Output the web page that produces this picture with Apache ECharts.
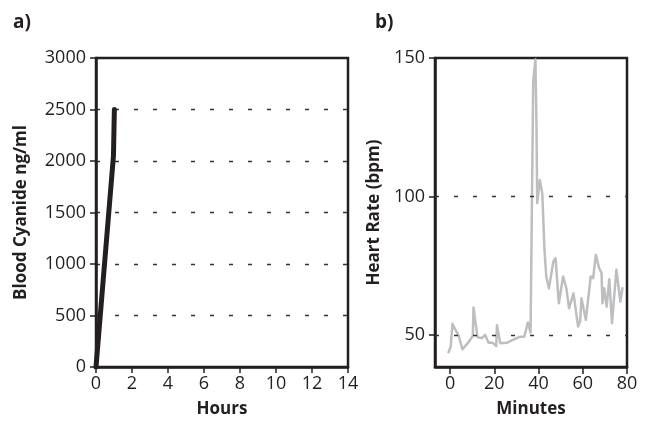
<!DOCTYPE html>
<html><head><meta charset="utf-8">
<script src="https://cdn.jsdelivr.net/npm/echarts@6/dist/echarts.min.js"></script>
<style>html,body{margin:0;padding:0;background:#fff}#c{width:649px;height:429px}</style>
</head><body><div id="c"></div>
<script>
// Panel a: blood cyanide vs hours
const cyanideHours = [0, 0.97, 1.02];
const cyanideValues = [0, 2050, 2500];
// Panel b: heart rate vs minutes
const hrMinutes = [-0.8,0.3,1.1,2.3,3.8,5.6,8.0,10.3,10.6,12.4,14.4,15.9,17.4,19.2,20.9,21.2,22.7,25.8,31.1,33.6,35.2,36.4,37.6,38.6,39.1,39.4,40.6,41.7,42.7,43.5,44.7,46.7,47.7,48.9,49.2,51.1,52.6,53.8,55.8,57.9,58.8,59.4,61.4,63.6,64.7,65.9,67.4,68.5,68.9,69.7,70.8,72.0,73.2,75.2,77.0,78.0];
const hrValues = [43.4,45.8,54.0,52.0,50.0,44.8,47.0,49.6,59.9,49.2,48.8,50.0,47.2,47.2,46.0,53.5,47.0,47.2,49.2,49.4,54.5,50.8,141.5,149.5,124.6,97.5,105.9,101.1,80.7,71.1,66.8,76.5,77.7,64.4,61.4,71.1,66.8,59.6,65.0,53.0,54.8,63.2,55.4,71.1,70.5,78.9,74.1,72.3,61.4,66.8,60.2,70.1,54.2,73.5,62.0,67.2];
const hoursTicks = [0,2,4,6,8,10,12,14];
const cyanideTicks = [0,500,1000,1500,2000,2500,3000];
const minuteTicks = [0,20,40,60,80];
const hrTicks = [50,100,150];
const hrGridLines = [50,100];

const ink = '#231f20';
const font = '"Open Sans", "Liberation Sans", sans-serif';
const chart = echarts.init(document.getElementById('c'), null, {renderer:'canvas'});
const plain = v => String(v);
const lbl = {color: ink, fontSize: 18, fontFamily: font, formatter: plain};
const nm = {color: ink, fontSize: 17, fontWeight: 'bold', fontFamily: font};
chart.setOption({
  animation: false,
  title: [
    {text: 'a)', left: 8, top: 8, textStyle: {color: ink, fontSize: 19, fontWeight: 'bold', fontFamily: font}},
    {text: 'b)', left: 370, top: 8, textStyle: {color: ink, fontSize: 19, fontWeight: 'bold', fontFamily: font}}
  ],
  grid: [
    {left: 96, right: 301, top: 58, bottom: 62, show: true, borderColor: ink, borderWidth: 2.5, backgroundColor: 'transparent'},
    {left: 435, right: 22, top: 58, bottom: 62, show: true, borderColor: ink, borderWidth: 2.5, backgroundColor: 'transparent'}
  ],
  xAxis: [
    {type: 'value', gridIndex: 0, min: 0, max: 14, interval: 2,
     name: 'Hours', nameLocation: 'middle', nameGap: 34, nameTextStyle: nm,
     axisLine: {onZero: false, lineStyle: {color: ink, width: 2.5}},
     axisTick: {show: true, length: 6, lineStyle: {color: ink, width: 1.5}, customValues: hoursTicks},
     axisLabel: {...lbl, margin: 8, customValues: hoursTicks},
     splitLine: {show: false}},
    {type: 'value', gridIndex: 1, min: -6.8, max: 80,
     name: 'Minutes', nameLocation: 'middle', nameGap: 34, nameTextStyle: nm,
     axisLine: {onZero: false, lineStyle: {color: ink, width: 2.5}},
     axisTick: {show: true, length: 7, lineStyle: {color: ink, width: 1.5}, customValues: minuteTicks},
     axisLabel: {...lbl, margin: 8, customValues: minuteTicks},
     splitLine: {show: false}}
  ],
  yAxis: [
    {type: 'value', gridIndex: 0, min: 0, max: 3000, interval: 500,
     name: 'Blood Cyanide ng/ml', nameLocation: 'middle', nameGap: 66, nameTextStyle: nm,
     axisLine: {show: true, onZero: false, lineStyle: {color: ink, width: 2.5}},
     axisTick: {show: true, length: 6, lineStyle: {color: ink, width: 1.5}},
     axisLabel: {...lbl, margin: 10},
     splitLine: {show: true, showMinLine: false, showMaxLine: false, lineStyle: {color: '#333', width: 1.3, type: [4, 15]}}},
    {type: 'value', gridIndex: 1, min: 38.4, max: 150,
     name: 'Heart Rate (bpm)', nameLocation: 'middle', nameGap: 52, nameTextStyle: nm,
     axisLine: {show: true, onZero: false, lineStyle: {color: ink, width: 2.5}},
     axisTick: {show: true, length: 6, lineStyle: {color: ink, width: 1.5}, customValues: hrTicks},
     axisLabel: {...lbl, margin: 10, customValues: hrTicks},
     splitLine: {show: false}}
  ],
  series: [
    {type: 'line', xAxisIndex: 0, yAxisIndex: 0, showSymbol: false, symbol: 'none',
     data: cyanideHours.map((h, i) => [h, cyanideValues[i]]),
     lineStyle: {color: ink, width: 5, cap: 'round', join: 'round'}},
    {type: 'line', xAxisIndex: 1, yAxisIndex: 1, showSymbol: false, symbol: 'none',
     data: hrMinutes.map((m, i) => [m, hrValues[i]]),
     lineStyle: {color: '#bcbec0', width: 2.5, join: 'round'},
     markLine: {silent: true, symbol: 'none', label: {show: false},
       lineStyle: {color: '#333', width: 1.3, type: [4, 15]},
       data: hrGridLines.map(v => ({yAxis: v}))}}
  ]
});
</script></body></html>
